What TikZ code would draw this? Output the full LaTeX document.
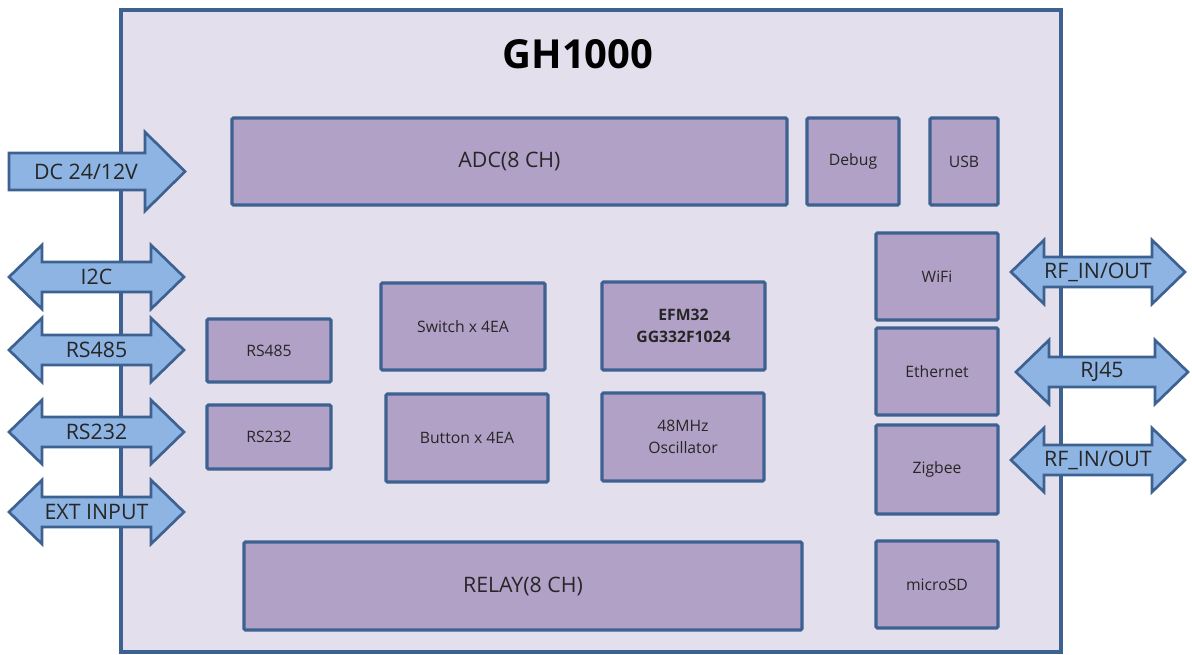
\documentclass[tikz,border=0pt]{standalone}
\usepackage{fontspec}
\setmainfont{Open Sans}
\definecolor{frameblue}{HTML}{3D6291}
\definecolor{boxfill}{HTML}{B2A1C7}
\definecolor{bgfill}{HTML}{E4DFEC}
\definecolor{arrowfill}{HTML}{8DB4E2}
\begin{document}
\begin{tikzpicture}[x=0.75pt,y=-0.75pt,
  blk/.style={draw=frameblue,fill=boxfill,line width=2.4pt,rounded corners=1pt},
  arr/.style={draw=frameblue,fill=arrowfill,line width=2pt,line join=miter},
  lbl/.style={font=\fontsize{11.8}{13}\selectfont,align=center,text=black!85},
  biglbl/.style={font=\fontsize{16}{18}\selectfont,text=black!85},
  arrlbl/.style={font=\fontsize{16}{18}\selectfont,text=black!85,inner sep=0pt}]
\useasboundingbox (0,0) rectangle (1192,654);
% main frame
\draw[draw=frameblue,fill=bgfill,line width=2.4pt] (121,10) rectangle (1061,652);
\node[font=\fontsize{30}{33}\selectfont\bfseries] (title) at (578,54) {GH1000};
% blocks
\draw[blk] (232,118) rectangle (787,205); \node[biglbl] (adc) at (509.5,161.5) {ADC(8 CH)};
\draw[blk] (807,118) rectangle (899,205); \node[lbl] (debug) at (853,161.5) {Debug};
\draw[blk] (930,118) rectangle (998,205); \node[lbl] (usb) at (964,161.5) {USB};
\draw[blk] (876,233) rectangle (998,320); \node[lbl] (wifi) at (937,276.5) {WiFi};
\draw[blk] (876,328) rectangle (998,415); \node[lbl] (eth) at (937,371.5) {Ethernet};
\draw[blk] (876,425) rectangle (998,514); \node[lbl] (zig) at (937,469.5) {Zigbee};
\draw[blk] (876,541) rectangle (998,628); \node[lbl] (sd) at (937,584.5) {microSD};
\draw[blk] (207,319) rectangle (331,382); \node[lbl] (rs485b) at (269,350.5) {RS485};
\draw[blk] (207,405) rectangle (331,469); \node[lbl] (rs232b) at (269,437) {RS232};
\draw[blk] (381,283) rectangle (545,370); \node[lbl] (sw) at (463,326.5) {Switch x 4EA};
\draw[blk] (386,394) rectangle (548,482); \node[lbl] (btn) at (467,438) {Button x 4EA};
\draw[blk] (602,282) rectangle (765,370); \node[lbl,font=\fontsize{11.8}{17}\selectfont\bfseries] (mcu) at (683.5,326) {EFM32\\GG332F1024};
\draw[blk] (602,393) rectangle (764,481); \node[lbl,font=\fontsize{11.8}{17}\selectfont] (osc) at (683,437) {48MHz\\Oscillator};
\draw[blk] (244,542) rectangle (802,630); \node[biglbl] (relay) at (523,586) {RELAY(8 CH)};
% arrows
\newcommand{\dblarr}[5]{% x1 x2 y label name
  \draw[arr] (#1,#3) -- ({#1+33},{#3-32}) -- ({#1+33},{#3-15}) -- ({#2-33},{#3-15}) -- ({#2-33},{#3-32})
    -- (#2,#3) -- ({#2-33},{#3+32}) -- ({#2-33},{#3+15}) -- ({#1+33},{#3+15}) -- ({#1+33},{#3+32}) -- cycle;
  \node[arrlbl] (#5) at ({(#1+#2)/2},#3) {#4};}
\draw[arr] (9,153) -- (145,153) -- (145,132) -- (185,171.5) -- (145,211) -- (145,190) -- (9,190) -- cycle;
\node[arrlbl] (dc) at (86,171.5) {DC 24/12V};
\dblarr{9}{184}{277}{I2C}{i2c}
\dblarr{9}{184}{350}{RS485}{rs485}
\dblarr{9}{184}{432}{RS232}{rs232}
\dblarr{9}{184}{512}{EXT INPUT}{ext}
\dblarr{1011}{1185}{272}{RF\_IN/OUT}{rf1}
\dblarr{1016}{1188}{372}{RJ45}{rj45}
\dblarr{1011}{1185}{460}{RF\_IN/OUT}{rf2}
\end{tikzpicture}
\end{document}
